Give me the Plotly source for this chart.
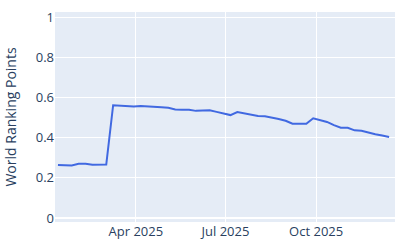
import plotly.graph_objects as go
import pandas as pd

dates = pd.date_range("2025-01-12", "2025-12-14", freq="7D").strftime("%Y-%m-%d").tolist()
points = [
    0.264, 0.263, 0.261, 0.270, 0.270, 0.265, 0.266, 0.266,
    0.561, 0.559, 0.557, 0.555, 0.557, 0.556, 0.554, 0.551,
    0.548, 0.540, 0.539, 0.538, 0.533, 0.534, 0.536, 0.528,
    0.520, 0.512, 0.527, 0.521, 0.514, 0.507, 0.506, 0.500,
    0.493, 0.484, 0.469, 0.469, 0.469, 0.496, 0.487, 0.478,
    0.462, 0.449, 0.449, 0.436, 0.434, 0.424, 0.417, 0.410,
    0.403,
]

fig = go.Figure(go.Scatter(x=dates, y=points, mode="lines",
                           line=dict(color="royalblue", width=2)))
fig.update_layout(
    width=400, height=250,
    margin=dict(l=55, r=5, t=12, b=28),
    template="plotly",
    showlegend=False,
    font=dict(size=13),
    yaxis=dict(title=dict(text="World Ranking Points", font=dict(size=14)),
               range=[-0.02, 1.025], tickvals=[0, 0.2, 0.4, 0.6, 0.8, 1],
               ticktext=["0", "0.2", "0.4", "0.6", "0.8", "1"]),
    xaxis=dict(range=["2025-01-09", "2025-12-20"],
               tickvals=["2025-04-01", "2025-07-01", "2025-10-01"],
               ticktext=["Apr 2025", "Jul 2025", "Oct 2025"]),
)
fig.write_html("out.html")
